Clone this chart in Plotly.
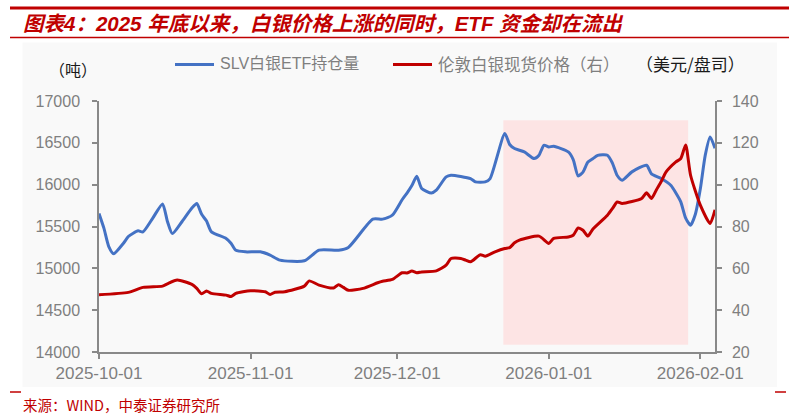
import plotly.graph_objects as go

# ---------------- data ----------------
etf_dates = [
    "2025-10-01", "2025-10-02", "2025-10-03", "2025-10-04", "2025-10-06", "2025-10-07",
    "2025-10-08", "2025-10-09", "2025-10-10", "2025-10-12", "2025-10-14", "2025-10-15",
    "2025-10-16", "2025-10-18", "2025-10-20", "2025-10-21", "2025-10-22", "2025-10-23",
    "2025-10-24", "2025-10-27", "2025-10-28", "2025-10-29", "2025-10-31", "2025-11-03",
    "2025-11-05", "2025-11-07", "2025-11-12", "2025-11-15", "2025-11-19", "2025-11-21",
    "2025-11-26", "2025-11-28", "2025-11-30", "2025-12-02", "2025-12-03", "2025-12-04",
    "2025-12-05", "2025-12-06", "2025-12-08", "2025-12-09", "2025-12-11", "2025-12-12",
    "2025-12-16", "2025-12-17", "2025-12-19", "2025-12-20", "2025-12-23", "2025-12-24",
    "2025-12-25", "2025-12-27", "2025-12-29", "2025-12-30", "2025-12-31", "2026-01-01",
    "2026-01-02", "2026-01-05", "2026-01-06", "2026-01-07", "2026-01-08", "2026-01-09",
    "2026-01-10", "2026-01-11", "2026-01-13", "2026-01-14", "2026-01-15", "2026-01-16",
    "2026-01-18", "2026-01-21", "2026-01-22", "2026-01-24", "2026-01-26", "2026-01-27",
    "2026-01-28", "2026-01-29", "2026-01-30", "2026-01-31", "2026-02-01", "2026-02-02",
    "2026-02-03", "2026-02-04",
]
etf_holdings = [
    15655, 15480, 15260, 15175, 15300, 15380,
    15420, 15448, 15436, 15600, 15770, 15560,
    15415, 15560, 15720, 15775, 15645, 15565,
    15436, 15357, 15300, 15215, 15197, 15197,
    15158, 15098, 15090, 15217, 15217, 15250,
    15588, 15588, 15635, 15820, 15900, 15990,
    16101, 15955, 15900, 15934, 16093, 16113,
    16073, 16033, 16033, 16073, 16611, 16480,
    16432, 16391, 16312, 16352, 16471, 16451,
    16459, 16391, 16300, 16105, 16150, 16270,
    16310, 16350, 16352, 16260, 16110, 16053,
    16153, 16232, 16130, 16073, 15990, 15900,
    15794, 15600, 15516, 15650, 15950, 16350,
    16570, 16435,
]

price_dates = [
    "2025-10-01", "2025-10-07", "2025-10-10", "2025-10-14", "2025-10-15", "2025-10-17",
    "2025-10-20", "2025-10-21", "2025-10-22", "2025-10-23", "2025-10-24", "2025-10-27",
    "2025-10-28", "2025-10-29", "2025-11-01", "2025-11-04", "2025-11-05", "2025-11-06",
    "2025-11-08", "2025-11-12", "2025-11-13", "2025-11-15", "2025-11-18", "2025-11-19",
    "2025-11-20", "2025-11-21", "2025-11-24", "2025-11-27", "2025-11-28", "2025-11-30",
    "2025-12-02", "2025-12-03", "2025-12-04", "2025-12-05", "2025-12-06", "2025-12-09",
    "2025-12-11", "2025-12-12", "2025-12-14", "2025-12-15", "2025-12-16", "2025-12-18",
    "2025-12-19", "2025-12-21", "2025-12-23", "2025-12-24", "2025-12-25", "2025-12-26",
    "2025-12-30", "2026-01-01", "2026-01-02", "2026-01-05", "2026-01-06", "2026-01-07",
    "2026-01-08", "2026-01-09", "2026-01-10", "2026-01-13", "2026-01-14", "2026-01-15",
    "2026-01-16", "2026-01-20", "2026-01-21", "2026-01-22", "2026-01-23", "2026-01-24",
    "2026-01-25", "2026-01-27", "2026-01-28", "2026-01-29", "2026-01-30", "2026-02-01",
    "2026-02-03", "2026-02-04",
]
silver_price = [
    47.4, 48.5, 50.9, 51.5, 52.6, 54.4,
    52.3, 50.4, 47.8, 49.2, 48.0, 47.2,
    46.5, 48.0, 49.3, 48.8, 47.5, 48.6,
    48.8, 51.5, 54.0, 52.0, 50.6, 52.2,
    50.9, 49.5, 50.4, 53.1, 53.8, 54.7,
    57.9, 57.8, 58.7, 57.9, 58.3, 58.8,
    61.5, 64.7, 64.7, 63.9, 63.1, 66.5,
    65.8, 67.9, 69.5, 69.9, 72.2, 73.5,
    75.4, 71.9, 74.3, 75.0, 75.8, 79.3,
    78.2, 75.4, 78.7, 85.4, 88.5, 91.7,
    91.0, 93.4, 96.1, 93.4, 97.5, 101.5,
    106.1, 110.9, 112.5, 119.0, 104.5, 90.2,
    81.4, 88.0,
]

month_ticks = ["2025-10-01", "2025-11-01", "2025-12-01", "2026-01-01", "2026-02-01"]
left_ticks = [14000, 14500, 15000, 15500, 16000, 16500, 17000]
right_ticks = [20, 40, 60, 80, 100, 120, 140]

shade_start = "2025-12-22 17:00"
shade_end = "2026-01-29 12:00"

title_text = "图表4：2025 年底以来，白银价格上涨的同时，ETF 资金却在流出"
etf_name = "SLV白银ETF持仓量"
price_name = "伦敦白银现货价格（右）"
left_unit = "（吨）"
right_unit = "（美元/盘司）"
source_text = "来源：WIND，中泰证券研究所"

# ---------------- layout helpers ----------------
W, H = 794, 417
L, R, T, B = 99, 715, 101, 352
PW, PH = R - L, B - T


def px(x):
    return (x - L) / PW


def py(y):
    return (B - y) / PH


BLUE = "#4472C4"
RED = "#C00000"
AXIS = "#898989"
TXT = "#7F7F7F"
NUM_FONT = "Liberation Sans, Arial, sans-serif"
MIX_FONT = "Liberation Sans, Noto Sans CJK SC, sans-serif"
CJK_FONT = "Noto Sans CJK SC, sans-serif"

fig = go.Figure()
fig.add_trace(go.Scatter(x=etf_dates, y=etf_holdings, mode="lines", name=etf_name,
                         line=dict(color=BLUE, width=3, shape="spline", smoothing=0.6),
                         yaxis="y", showlegend=False))
fig.add_trace(go.Scatter(x=price_dates, y=silver_price, mode="lines", name=price_name,
                         line=dict(color=RED, width=3, shape="spline", smoothing=0.6),
                         yaxis="y2", showlegend=False))

shapes = [
    # chart area background
    dict(type="rect", xref="paper", yref="paper", x0=px(22.5), x1=px(777), y0=py(387), y1=py(42.5),
         fillcolor="#F9F9F9", line=dict(width=0), layer="below"),
    # highlighted period
    dict(type="rect", xref="x", yref="y", x0=shade_start, x1=shade_end, y0=14087, y1=16770,
         fillcolor="#FDE4E4", line=dict(width=0), layer="below"),
    # title rules
    dict(type="rect", xref="paper", yref="paper", x0=px(10), x1=px(789), y0=py(9.5), y1=py(6.5),
         fillcolor=RED, line=dict(width=0)),
    dict(type="line", xref="paper", yref="paper", x0=px(10), x1=px(789), y0=py(37.5), y1=py(37.5),
         line=dict(color=RED, width=1.5)),
    # footer dashes
    dict(type="line", xref="paper", yref="paper", x0=px(10), x1=px(21), y0=py(392), y1=py(392),
         line=dict(color=RED, width=1.5)),
    dict(type="line", xref="paper", yref="paper", x0=px(775), x1=px(786), y0=py(392), y1=py(392),
         line=dict(color=RED, width=1.5)),
    # legend keys
    dict(type="line", xref="paper", yref="paper", x0=px(175), x1=px(214), y0=py(64.5), y1=py(64.5),
         line=dict(color=BLUE, width=3)),
    dict(type="line", xref="paper", yref="paper", x0=px(393), x1=px(432), y0=py(64.5), y1=py(64.5),
         line=dict(color=RED, width=3)),
]

annotations = [
    dict(text="<b><i>" + title_text + "</i></b>", x=px(21), y=py(23), xref="paper", yref="paper",
         xanchor="left", yanchor="middle", showarrow=False,
         font=dict(family=MIX_FONT, size=20.5, color=RED)),
    dict(text=left_unit, x=px(73), y=py(69), xref="paper", yref="paper", xanchor="center",
         yanchor="middle", showarrow=False, font=dict(family=CJK_FONT, size=16, color="#1A1A1A")),
    dict(text=etf_name, x=px(218), y=py(64), xref="paper", yref="paper", xanchor="left",
         yanchor="middle", showarrow=False, font=dict(family=MIX_FONT, size=16, color=TXT)),
    dict(text=price_name, x=px(436), y=py(64), xref="paper", yref="paper", xanchor="left",
         yanchor="middle", showarrow=False, font=dict(family=CJK_FONT, size=16.5, color=TXT)),
    dict(text=right_unit, x=px(690), y=py(64), xref="paper", yref="paper", xanchor="center",
         yanchor="middle", showarrow=False, font=dict(family=CJK_FONT, size=17, color="#1A1A1A")),
    dict(text=source_text, x=px(21), y=py(404), xref="paper", yref="paper", xanchor="left",
         yanchor="middle", showarrow=False, font=dict(family=CJK_FONT, size=14.5, color=RED)),
]

axis_common = dict(showgrid=False, zeroline=False, showline=True, linecolor=AXIS, linewidth=1.5,
                   ticks="outside", ticklen=5, tickwidth=1.5, tickcolor=AXIS,
                   tickfont=dict(family=NUM_FONT, size=16, color=TXT))

fig.update_layout(
    width=W, height=H,
    margin=dict(l=L, r=W - R, t=T, b=H - B, pad=0),
    paper_bgcolor="white", plot_bgcolor="rgba(0,0,0,0)",
    xaxis=dict(type="date", range=["2025-10-01", "2026-02-04"], tickvals=month_ticks,
               ticktext=month_ticks,
               **{**axis_common, "tickfont": dict(family=NUM_FONT, size=17, color=TXT)}),
    yaxis=dict(range=[14000, 17000], tickvals=left_ticks, ticktext=[str(v) for v in left_ticks],
               ticklabelstandoff=9, **axis_common),
    yaxis2=dict(range=[20, 140], tickvals=right_ticks, ticktext=[str(v) for v in right_ticks],
                overlaying="y", side="right", anchor="x", ticklabelstandoff=7, **axis_common),
    shapes=shapes,
    annotations=annotations,
    showlegend=False,
)

fig.write_html("out.html", config={"displayModeBar": False},
               post_script="document.body.style.margin='0';")
